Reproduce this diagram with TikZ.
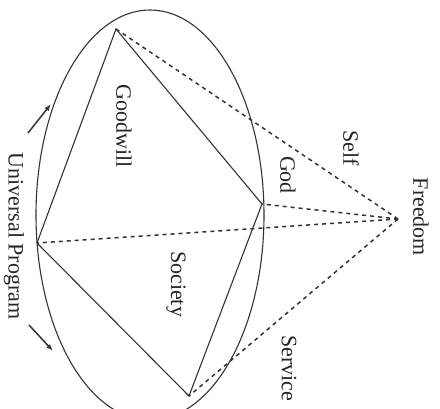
\documentclass[tikz,border=0pt]{standalone}
\usepackage{fontspec}
\setmainfont{Liberation Serif}
\usetikzlibrary{arrows.meta}
\begin{document}
\begin{tikzpicture}[x=1pt,y=-1pt,
  edge/.style={draw=black!80, line width=1.1pt},
  dashedge/.style={draw=black!80, line width=1.5pt, dash pattern=on 4pt off 4pt},
  turnarrow/.style={draw=black!80, line width=1.5pt, -{Latex[length=7pt,width=5pt]}},
  lbl/.style={rotate=-90, font=\fontsize{22}{24}\selectfont, text=black!85, inner sep=0pt}]
\useasboundingbox (0,0) rectangle (440,409);
\clip (0,0) rectangle (440,409);
\fill[white] (0,0) rectangle (440,409);
\draw[edge] (150,215) ellipse [x radius=114pt, y radius=205pt];
\coordinate (A) at (116,29);
\coordinate (B) at (37,243);
\coordinate (C) at (189,396);
\coordinate (D) at (262,204);
\coordinate (F) at (398,219);
\draw[edge] (A) -- (B) -- (C) -- (D) -- cycle;
\draw[dashedge] (F) -- (A);
\draw[dashedge] (F) -- (D);
\draw[dashedge] (F) -- (B);
\draw[dashedge] (F) -- (C);
\coordinate (u1) at (28,133);
\coordinate (u2) at (51,104);
\coordinate (l1) at (29,325);
\coordinate (l2) at (53,351);
\draw[turnarrow] (u1) -- (u2);
\draw[turnarrow] (l1) -- (l2);
\node[lbl] (up) at (14,236) {Universal Program};
\node[lbl] (fr) at (421,217) {Freedom};
\node[lbl] (se) at (351,148) {Self};
\node[lbl] (go) at (288,175) {God};
\node[lbl] (sv) at (289,368) {Service};
\node[lbl] (gw) at (124,126) {Goodwill};
\node[lbl] (so) at (176,284) {Society};
\end{tikzpicture}
\end{document}
